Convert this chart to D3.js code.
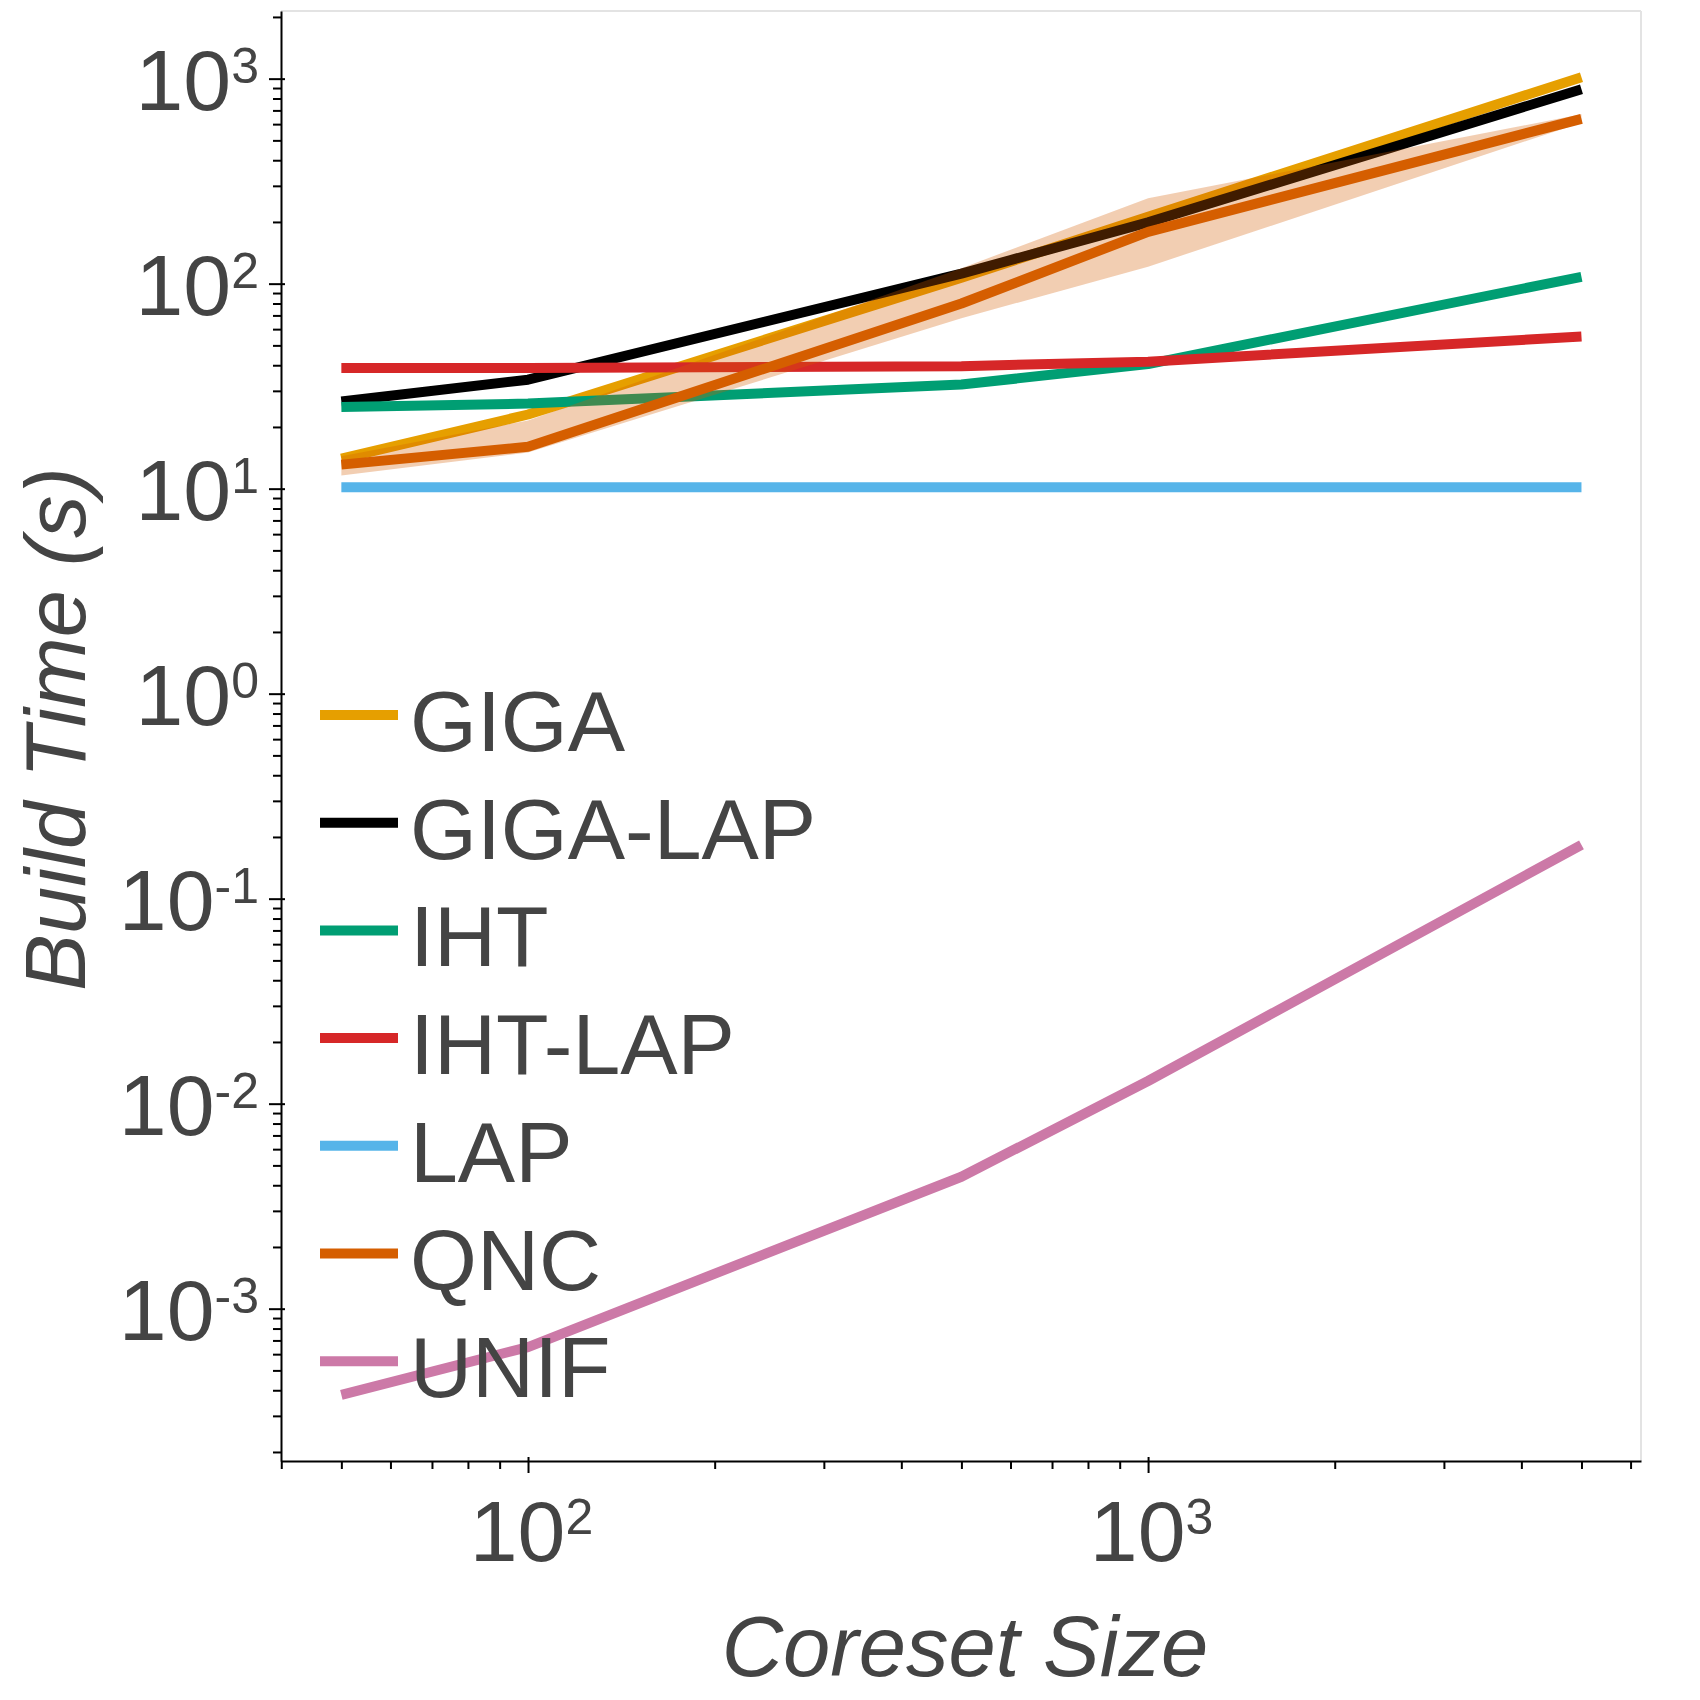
<!DOCTYPE html>
<html>
<head>
<meta charset="utf-8">
<script src="https://cdn.jsdelivr.net/npm/d3@7"></script>
<style>
  html, body { margin: 0; padding: 0; background: #ffffff; }
  svg { display: block; }
</style>
</head>
<body>
<svg id="chart" width="1700" height="1700"></svg>
<script>
// ---------------- data ----------------
const coresetSizes = [50, 100, 500, 1000, 5000];
const seriesNames = ["GIGA", "GIGA-LAP", "IHT", "IHT-LAP", "LAP", "QNC", "UNIF"];
const seriesColors = ["#E69F00", "#000000", "#009E73", "#D62728", "#56B4E9", "#D55E00", "#CC79A7"];
const gigaTimes    = [14.0, 23.0, 107, 212, 1016];
const gigaLapTimes = [26.6, 34.0, 112, 199, 888];
const ihtTimes     = [25.0, 26.0, 32.2, 40.5, 108];
const ihtLapTimes  = [38.8, 38.8, 39.6, 41.6, 55.3];
const lapTimes     = [10.15, 10.15, 10.15, 10.15, 10.15];
const qncTimes     = [13.1, 16.0, 80, 179, 637];
const qncLower     = [11.6, 15.0, 67.8, 121, 610];
const qncUpper     = [14.4, 21.5, 119, 261, 670];
const unifTimes    = [3.8e-4, 6.5e-4, 4.4e-3, 0.0129, 0.183];
const seriesValues = [gigaTimes, gigaLapTimes, ihtTimes, ihtLapTimes, lapTimes, qncTimes, unifTimes];
const yMajorTicks = [1e-3, 1e-2, 1e-1, 1e0, 1e1, 1e2, 1e3];
const yTickExponents = ["-3", "-2", "-1", "0", "1", "2", "3"];
const xMajorTicks = [100, 1000];
const xTickExponents = ["2", "3"];
const xLabel = "Coreset Size";
const yLabel = "Build Time (s)";

(function () {
// ---------------- layout ----------------
const pL = 281, pR = 1641, pT = 11, pB = 1461;
const textColor = "#444444";
const fontFamily = "'Liberation Sans', Arial, Helvetica, sans-serif";

const svg = d3.select("#chart");
svg.append("rect").attr("width", 1700).attr("height", 1700).attr("fill", "#ffffff");

const x = d3.scaleLog().domain([39.96, 6237]).range([pL, pR]);
const y = d3.scaleLog().domain([Math.pow(10, -3.743), Math.pow(10, 3.330)]).range([pB, pT]);

function minorTicks(lo, hi) {
  const out = [];
  for (let e = -5; e <= 5; e++) {
    for (let m = 2; m <= 9; m++) {
      const v = m * Math.pow(10, e);
      if (v >= lo * 0.9999 && v <= hi * 1.0001) out.push(v);
    }
  }
  return out;
}
const yMinor = minorTicks(y.domain()[0], y.domain()[1]);
const xMinor = minorTicks(x.domain()[0], x.domain()[1]);

// plot frame (light grey top/right)
svg.append("line").attr("x1", pL).attr("x2", pR).attr("y1", pT).attr("y2", pT)
  .attr("stroke", "#e3e3e3").attr("stroke-width", 2);
svg.append("line").attr("x1", pR).attr("x2", pR).attr("y1", pT).attr("y2", pB)
  .attr("stroke", "#e3e3e3").attr("stroke-width", 2);

// ---------------- series ----------------
const plot = svg.append("g");
const line = d3.line()
  .x((d, i) => x(coresetSizes[i]))
  .y(d => y(d));
const area = d3.area()
  .x((d, i) => x(coresetSizes[i]))
  .y0((d, i) => y(qncLower[i]))
  .y1((d, i) => y(qncUpper[i]));

function drawLine(idx) {
  plot.append("path")
    .datum(seriesValues[idx])
    .attr("d", line)
    .attr("fill", "none")
    .attr("stroke", seriesColors[idx])
    .attr("stroke-width", 10)
    .attr("stroke-linejoin", "bevel")
    .attr("stroke-linecap", "butt");
}
[0, 1, 2, 3, 4].forEach(drawLine);
plot.append("path")
  .datum(qncTimes)
  .attr("d", area)
  .attr("fill", seriesColors[5])
  .attr("fill-opacity", 0.3)
  .attr("stroke", "none");
[5, 6].forEach(drawLine);

// ---------------- axes ----------------
const yMinorG = svg.append("g").attr("transform", `translate(${pL},0)`)
  .call(d3.axisLeft(y).tickValues(yMinor).tickSize(8).tickSizeOuter(0).tickFormat(""));
yMinorG.select(".domain").remove();
yMinorG.selectAll("line").attr("stroke", "#000").attr("stroke-width", 2);

const yAxisG = svg.append("g").attr("transform", `translate(${pL},0)`)
  .call(d3.axisLeft(y).tickValues(yMajorTicks).tickSize(12).tickSizeOuter(0).tickFormat(""));
yAxisG.select(".domain").attr("stroke", "#000").attr("stroke-width", 2);
yAxisG.selectAll(".tick line").attr("x1", 4).attr("x2", -12).attr("stroke", "#000").attr("stroke-width", 2);
yAxisG.selectAll(".tick text").remove();
yAxisG.selectAll(".tick").each(function (d, i) {
  const t = d3.select(this).append("text")
    .attr("x", -22).attr("y", 31)
    .attr("text-anchor", "end")
    .attr("fill", textColor)
    .attr("font-family", fontFamily)
    .attr("font-size", 86);
  t.append("tspan").text("10");
  t.append("tspan").attr("font-size", 50).attr("dy", -27).text(yTickExponents[i]);
});

const xMinorG = svg.append("g").attr("transform", `translate(0,${pB})`)
  .call(d3.axisBottom(x).tickValues(xMinor).tickSize(8).tickSizeOuter(0).tickFormat(""));
xMinorG.select(".domain").remove();
xMinorG.selectAll("line").attr("stroke", "#000").attr("stroke-width", 2);

const xAxisG = svg.append("g").attr("transform", `translate(0,${pB})`)
  .call(d3.axisBottom(x).tickValues(xMajorTicks).tickSize(12).tickSizeOuter(0).tickFormat(""));
xAxisG.select(".domain").attr("stroke", "#000").attr("stroke-width", 2);
xAxisG.selectAll(".tick line").attr("y1", -4).attr("y2", 12).attr("stroke", "#000").attr("stroke-width", 2);
xAxisG.selectAll(".tick text").remove();
xAxisG.selectAll(".tick").each(function (d, i) {
  const t = d3.select(this).append("text")
    .attr("x", 3).attr("y", 100)
    .attr("text-anchor", "middle")
    .attr("fill", textColor)
    .attr("font-family", fontFamily)
    .attr("font-size", 86);
  t.append("tspan").text("10");
  t.append("tspan").attr("font-size", 50).attr("dy", -27).text(xTickExponents[i]);
});

// axis titles
svg.append("text")
  .attr("x", (pL + pR) / 2 + 4).attr("y", 1676)
  .attr("text-anchor", "middle")
  .attr("fill", textColor)
  .attr("font-family", fontFamily)
  .attr("font-style", "italic")
  .attr("font-size", 85)
  .text(xLabel);

svg.append("text")
  .attr("transform", "translate(85,729) rotate(-90)")
  .attr("text-anchor", "middle")
  .attr("fill", textColor)
  .attr("font-family", fontFamily)
  .attr("font-style", "italic")
  .attr("font-size", 85)
  .text(yLabel);

// ---------------- legend ----------------
const legend = svg.append("g");
seriesNames.forEach((name, i) => {
  const cy = 715 + i * 107.7;
  legend.append("line")
    .attr("x1", 320).attr("x2", 398)
    .attr("y1", cy).attr("y2", cy)
    .attr("stroke", seriesColors[i])
    .attr("stroke-width", 10);
  legend.append("text")
    .attr("x", 410).attr("y", cy + 36)
    .attr("fill", textColor)
    .attr("font-family", fontFamily)
    .attr("font-size", 86)
    .text(name);
});
})();
</script>
</body>
</html>
